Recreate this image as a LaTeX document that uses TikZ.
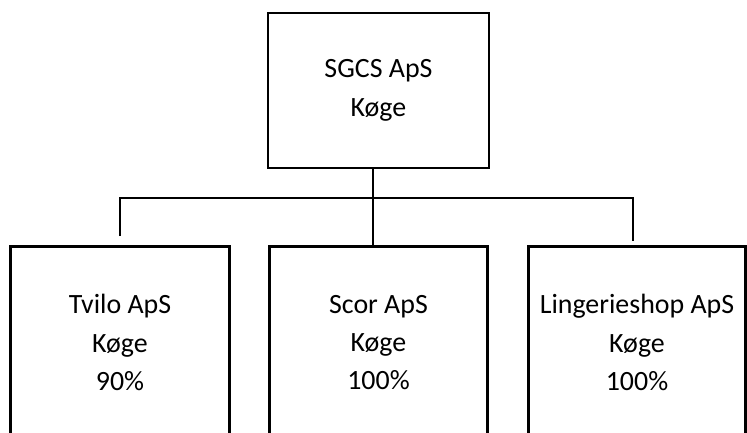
\documentclass[tikz,border=0pt]{standalone}
\usepackage{fontspec}
\setmainfont{Carlito}
\usetikzlibrary{positioning}

\tikzset{
  company/.style 2 args={draw, line width=2.8bp, minimum width=#1, minimum height=#2,
    inner sep=0pt, align=center, font=\fontsize{28}{38.5}\selectfont},
  branch/.style={line width=2bp},
  stem/.style={line width=2.8bp}
}

\begin{document}
\begin{tikzpicture}[x=1bp,y=-1bp,node distance=252bp and 258.5bp,on grid]
   \clip (0,0) rectangle (747,432);
   \node[company={221bp}{155bp}] (sgcs) at (378.5,90.5) {SGCS ApS\\Køge};
   \node[company={218bp}{192bp}] (scor) [below =of sgcs] {Scor ApS\\Køge\\100\%};
   \node[company={219bp}{192bp}] (tvilo) [left =of scor] {Tvilo ApS\\Køge\\90\%};
   \node[company={217bp}{192bp}] (shop) [right =of scor] {Lingerieshop ApS\\Køge\\100\%};

   % connectors
   \coordinate (trunk) at ([xshift=-5.5bp]sgcs.south);
   \coordinate (bus) at (trunk |- 0,198);
   \coordinate (left drop) at ([yshift=9bp]tvilo.north);
   \coordinate (right drop) at ([xshift=-4.5bp,yshift=4bp]shop.north);
   \draw[branch] (left drop) -- (left drop |- bus) -- (right drop |- bus) -- (right drop);
   \draw[stem] (trunk) -- (trunk |- scor.north);
\end{tikzpicture}
\end{document}
